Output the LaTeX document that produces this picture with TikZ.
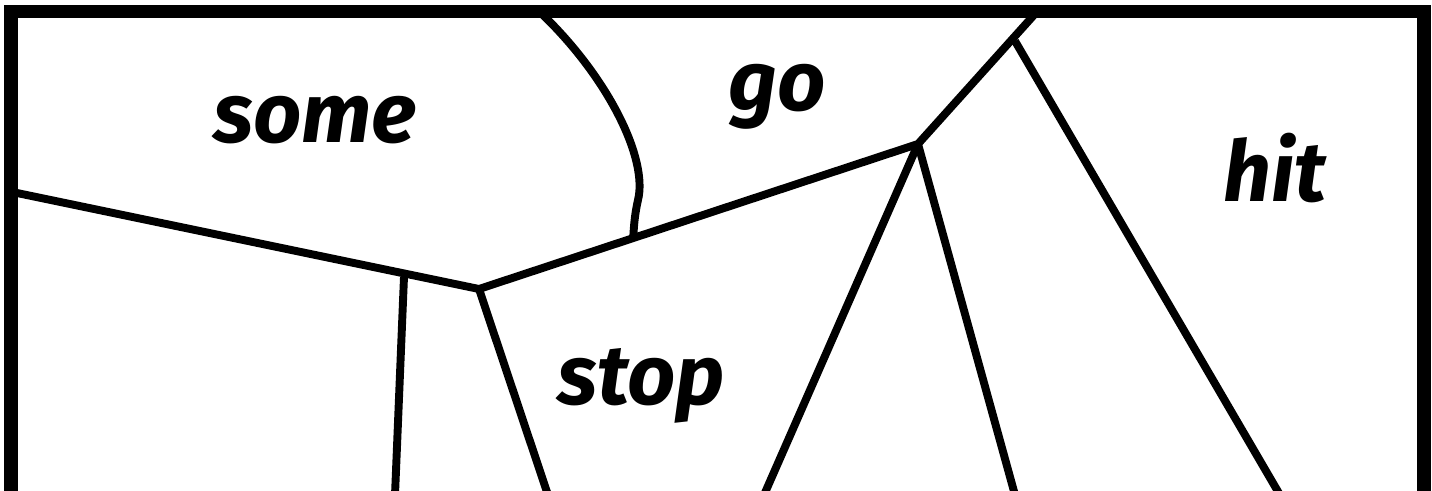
\documentclass[tikz,border=0pt]{standalone}
\usepackage{fontspec}
\setmainfont{Fira Sans}
\begin{document}
\begin{tikzpicture}[x=0.01cm,y=-0.01cm,
  frameline/.style={line width=3.85pt,line join=miter},
  edge/.style={line width=2.25pt,line cap=butt,line join=round},
  word/.style={anchor=base,font=\fontsize{24}{28}\selectfont\bfseries\itshape,inner sep=0pt}]
\useasboundingbox (0,0) rectangle (1432,491);
\clip (0,0) rectangle (1432,491);
\fill[white] (0,0) rectangle (1432,491);
% junctions
\coordinate (L) at (17,193);
\coordinate (A) at (479,289);
\coordinate (B) at (918,144);
\coordinate (T) at (1034,15);
\coordinate (K) at (1015,41);
\coordinate (V) at (404,277);
\coordinate (C1) at (543,15);
\coordinate (C2) at (633,240);
\coordinate (bA) at (548,495);
\coordinate (bV) at (395,495);
\coordinate (bB1) at (764,495);
\coordinate (bB2) at (1015,495);
\coordinate (bK) at (1280,495);
% edges
\draw[edge] (L) -- (A) -- (B) -- (T);
\draw[edge] (V) -- (bV);
\draw[edge] (A) -- (bA);
\draw[edge] (B) -- (bB1);
\draw[edge] (B) -- (bB2);
\draw[edge] (K) -- (bK);
\draw[edge] (C1) .. controls (610,80) and (648,160) .. (638,200) .. controls (634,218) and (634,228) .. (C2);
% frame
\draw[frameline] (10.75,500) -- (10.75,11.5) -- (1424,11.5) -- (1424,500);
% labels
\node[word] (some) at (315,143) {some};
\node[word] (go) at (777,111) {go};
\node[word] (hit) at (1275,202) {hit};
\node[word] (stop) at (641,405) {stop};
\end{tikzpicture}
\end{document}
